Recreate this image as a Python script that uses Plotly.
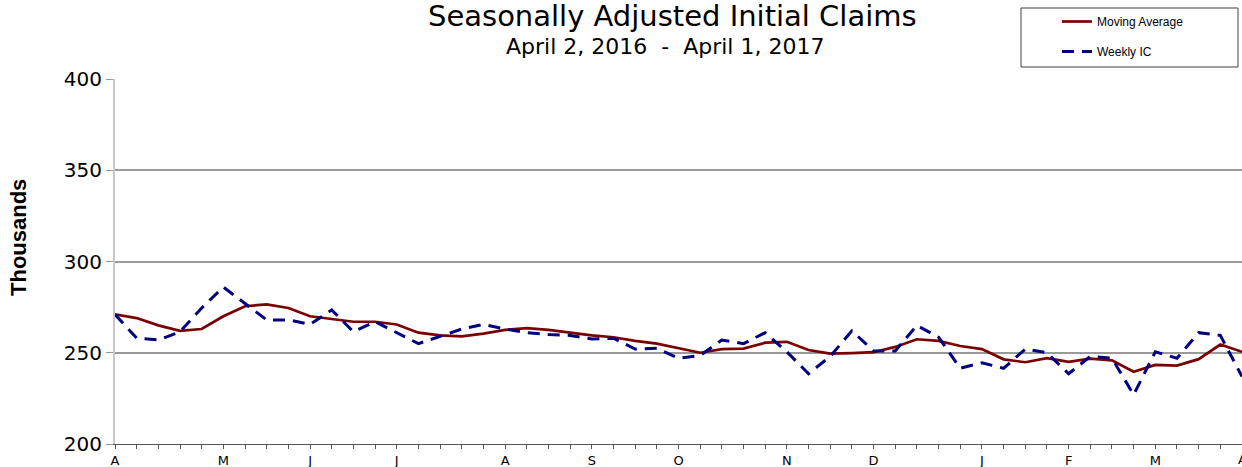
import plotly.graph_objects as go

weeks = list(range(53))
month_labels = {0: "A", 5: "M", 9: "J", 13: "J", 18: "A", 22: "S", 26: "O",
                31: "N", 35: "D", 40: "J", 44: "F", 48: "M", 52: "A"}
tick_text = [month_labels.get(w, "") for w in weeks]

moving_average = [271, 269, 265, 262, 263, 270, 275.5, 276.5, 274.5, 270,
                  268.5, 267, 267, 265.5, 261, 259.5, 259, 260.5, 262.5, 263.5,
                  262.5, 261, 259.5, 258.5, 256.5, 255, 252.5, 250, 252, 252.3,
                  255.5, 256, 251.5, 249.5, 249.8, 250.3, 253.2, 257.4, 256.5, 253.7,
                  252, 246.4, 244.8, 247, 245, 246.8, 245.8, 239.6, 243.3, 243,
                  246.5, 254.5, 250.5]

weekly_ic = [271, 258, 257, 261.5, 274.5, 286, 277, 268, 268, 265.5,
             273.5, 261.5, 267, 261, 255, 259, 263, 265.5, 263, 261,
             260, 259.5, 257.5, 258, 252, 252.5, 247, 248.5, 257, 255,
             261, 250.5, 238.5, 248, 262, 251, 251, 265, 258.5, 241.5,
             244.5, 241.5, 252, 250, 238.5, 248, 247, 227, 250.5, 247,
             261, 259.5, 237]

W, H = 1242, 467
L, R, T, B = 115, 0, 79, 23
plot_w = W - L - R
plot_h = H - T - B

def px_x(px):
    return (px - L) / plot_w

def px_y(py):
    return (H - B - py) / plot_h

fig = go.Figure()
fig.add_trace(go.Scatter(x=weeks, y=moving_average, mode="lines", name="Moving Average",
                         legendgroup="ma",
                         line=dict(color="#7a0000", width=2.7), cliponaxis=False))
fig.add_trace(go.Scatter(x=weeks, y=weekly_ic, mode="lines", name="Weekly IC",
                         legendgroup="ic",
                         line=dict(color="#000080", width=3, dash="12px,8px"), cliponaxis=False))

nb = "\u00a0"
fig.update_layout(
    width=W, height=H,
    margin=dict(l=L, r=R, t=T, b=B, autoexpand=False),
    paper_bgcolor="white", plot_bgcolor="white",
    font=dict(family="DejaVu Sans, Liberation Sans, Arial, sans-serif", color="black"),
    showlegend=True,
    legend=dict(x=px_x(1057), y=px_y(7), xref="paper", yref="paper",
                xanchor="left", yanchor="top",
                borderwidth=0, bgcolor="rgba(0,0,0,0)",
                font=dict(size=12, family="Liberation Sans, Arial, sans-serif"),
                traceorder="grouped", itemwidth=30, tracegroupgap=11),
    shapes=[
        dict(type="rect", xref="paper", yref="paper",
             x0=px_x(1021), x1=px_x(1238), y0=px_y(67), y1=px_y(8),
             line=dict(color="#404040", width=1), fillcolor="rgba(0,0,0,0)", layer="below"),
    ],
    annotations=[
        dict(text="Seasonally Adjusted Initial Claims", x=px_x(672), y=px_y(16),
             xref="paper", yref="paper", xanchor="center", yanchor="middle",
             showarrow=False, font=dict(size=29)),
        dict(text=f"April 2, 2016{nb}{nb}-{nb}{nb}April 1, 2017", x=px_x(665), y=px_y(47),
             xref="paper", yref="paper", xanchor="center", yanchor="middle",
             showarrow=False, font=dict(size=22)),
        dict(text="<b>Thousands</b>", x=px_x(18), y=px_y(238), textangle=-90,
             xref="paper", yref="paper", xanchor="center", yanchor="middle",
             showarrow=False, font=dict(size=22, family="Liberation Sans, Arial, sans-serif")),
        dict(text=tick_text[52], x=weeks[52], y=px_y(459), xref="x", yref="paper",
             xanchor="center", yanchor="middle", showarrow=False, font=dict(size=13)),
    ],
)

fig.update_xaxes(range=[0, 52], tickvals=weeks, ticktext=tick_text,
                 ticks="outside", ticklen=4, tickcolor="#555555", tickwidth=1,
                 showline=True, linecolor="#555555", linewidth=1, automargin=False,
                 showgrid=False, zeroline=False, tickfont=dict(size=13))
fig.update_yaxes(range=[200, 400], tickvals=[200, 250, 300, 350, 400],
                 ticks="outside", ticklen=7, tickcolor="#999999", automargin=False,
                 showline=True, linecolor="#c8c8c8", linewidth=2,
                 showgrid=True, gridcolor="#999999", gridwidth=1.5,
                 zeroline=False, tickfont=dict(size=20))

fig.write_html("out.html", config={"displayModeBar": False},
               post_script="document.body.style.margin='0px';document.body.style.overflow='hidden';")
